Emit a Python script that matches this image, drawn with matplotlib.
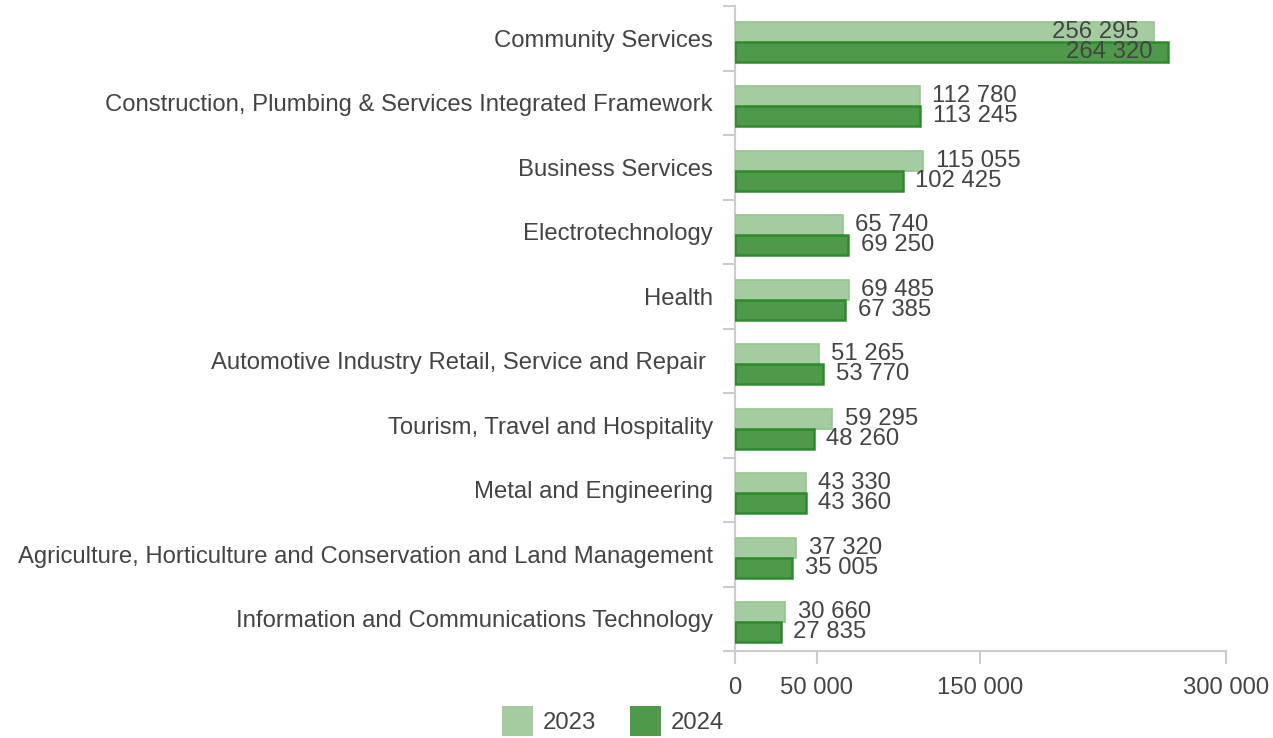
import matplotlib
matplotlib.use("Agg")
import matplotlib.pyplot as plt
from matplotlib.patches import Patch
import numpy as np

categories = [
    "Community Services",
    "Construction, Plumbing & Services Integrated Framework",
    "Business Services",
    "Electrotechnology",
    "Health",
    "Automotive Industry Retail, Service and Repair ",
    "Tourism, Travel and Hospitality",
    "Metal and Engineering",
    "Agriculture, Horticulture and Conservation and Land Management",
    "Information and Communications Technology",
]
values_2023 = [256295, 112780, 115055, 65740, 69485, 51265, 59295, 43330, 37320, 30660]
values_2024 = [264320, 113245, 102425, 69250, 67385, 53770, 48260, 43360, 35005, 27835]
series_names = ["2023", "2024"]
x_ticks = [0, 50000, 150000, 300000]
inside_threshold = 200000

plt.rcParams['font.family'] = ['Liberation Sans', 'DejaVu Sans']
text_color = "#444444"
axis_color = "#cccccc"
fill_colors = ["#a5cca0", "#4e9a4a"]
edge_colors = ["#95c58f", "#2e8a2e"]
edge_widths = [1.2, 1.8]
FS = 17.2

fig = plt.figure(figsize=(12.73, 7.38), dpi=100)
ax = fig.add_axes([735/1273, 1-651/738, (1226-735)/1273, (651-6)/738])

y = np.arange(len(categories))
h = 0.31
offsets = [-0.10, 0.21]
for i, vals in enumerate([values_2023, values_2024]):
    bars = ax.barh(y + offsets[i], vals, height=h, color=fill_colors[i],
                   edgecolor=edge_colors[i], linewidth=edge_widths[i], zorder=3)
    for b, v in zip(bars, vals):
        txt = f"{v:,}".replace(",", " ")
        yc = b.get_y() + b.get_height()/2
        if v > inside_threshold:
            ax.annotate(txt, (v, yc), xytext=(-11, 0), textcoords="offset points",
                        ha="right", va="center", fontsize=FS, color=text_color, zorder=4)
        else:
            ax.annotate(txt, (v, yc), xytext=(9, 0), textcoords="offset points",
                        ha="left", va="center", fontsize=FS, color=text_color, zorder=4)

ax.set_xlim(0, 300000)
ax.set_ylim(len(categories) - 0.5, -0.5)
ax.set_xticks(x_ticks)
ax.set_xticklabels([f"{t:,}".replace(",", " ") for t in x_ticks])
ax.set_yticks(y)
ax.set_yticklabels(categories)
ax.set_yticks(np.arange(len(categories) + 1) - 0.5, minor=True)

for s in ["top", "right"]:
    ax.spines[s].set_visible(False)
for s in ["left", "bottom"]:
    ax.spines[s].set_color(axis_color)
    ax.spines[s].set_linewidth(1.5)

ax.tick_params(axis="y", which="major", length=0, pad=16, labelsize=FS, labelcolor=text_color)
ax.tick_params(axis="y", which="minor", length=8.5, width=1.5, color=axis_color)
ax.tick_params(axis="x", which="major", length=9, width=1.5, color=axis_color,
               pad=10, labelsize=FS, labelcolor=text_color)

handles = [Patch(facecolor=fill_colors[i], edgecolor="none", label=series_names[i]) for i in range(2)]
fig.legend(handles=handles, loc="center", bbox_to_anchor=(613/1273, 17/738), ncol=2, frameon=False,
           fontsize=FS, labelcolor=text_color, handlelength=1.33, handleheight=1.6,
           handletextpad=0.4, columnspacing=1.4, borderpad=0.2)

fig.savefig("out.png", dpi=100)
